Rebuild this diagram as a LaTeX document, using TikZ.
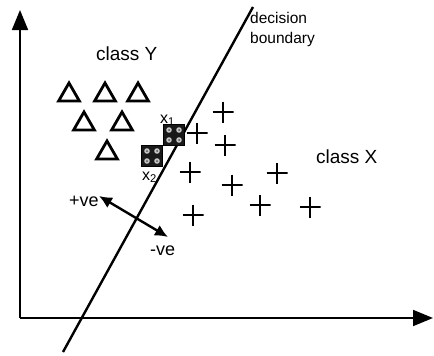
\documentclass[tikz,border=0pt]{standalone}
\usepackage{fontspec}
\setmainfont{Liberation Sans}
\usetikzlibrary{shapes.geometric,arrows.meta}
\tikzset{
  axis/.style={line width=1.8pt,-{Triangle[length=20pt,width=16pt]}},
  boundary/.style={line width=2.4pt},
  tri/.style={regular polygon,regular polygon sides=3,draw,line width=2.8pt,minimum size=24pt,inner sep=0pt},
  plusmark/.style={minimum size=21pt,inner sep=0pt,
    path picture={\draw[line width=2.4pt]
      (path picture bounding box.north) -- (path picture bounding box.south)
      (path picture bounding box.west) -- (path picture bounding box.east);}},
  sample/.style={draw=black,fill=black!90,minimum size=21pt,inner sep=0pt,line width=1pt,
    path picture={\foreach \dx in {-5,5}{\foreach \dy in {-5,5}{
      \fill[gray!45] ([xshift=\dx pt,yshift=\dy pt]path picture bounding box.center) circle (2.8pt);
      \fill[black!70] ([xshift=\dx pt,yshift=\dy pt]path picture bounding box.center) circle (1pt);}}}},
  lbl/.style={inner sep=0pt,anchor=base west},
  normal/.style={line width=2.4pt,{Latex[length=13pt,width=12pt]}-{Latex[length=13pt,width=12pt]}}
}
\begin{document}
\begin{tikzpicture}[x=1pt,y=-1pt]
\useasboundingbox (0,0) rectangle (434,356);
% axes
\coordinate (o) at (20,318);
\coordinate (ytip) at (20,10);
\coordinate (xtip) at (433,318);
\draw[axis] (o) -- (ytip);
\draw[axis] (o) -- (xtip);
% decision boundary
\coordinate (b1) at (63,352);
\coordinate (b2) at (253,7);
\draw[boundary] (b1) -- (b2);
\node[lbl,font=\fontsize{15.5}{20}\selectfont,align=left,anchor=north west] (db) at (250,12) {decision\\boundary};
% class labels
\node[lbl,font=\fontsize{19}{20}\selectfont] (cy) at (96,60) {class Y};
\node[lbl,font=\fontsize{19}{20}\selectfont] (cx) at (316,163) {class X};
% triangles
\node[tri] (t1) at (69,95) {};
\node[tri] (t2) at (105,95) {};
\node[tri] (t3) at (138,95) {};
\node[tri] (t4) at (84,124) {};
\node[tri] (t5) at (122,124) {};
\node[tri] (t6) at (107,153) {};
% pluses
\node[plusmark] (p1) at (223,112) {};
\node[plusmark] (p2) at (197,133) {};
\node[plusmark] (p3) at (225,145) {};
\node[plusmark] (p4) at (190,172) {};
\node[plusmark] (p5) at (232,185) {};
\node[plusmark] (p6) at (277,173) {};
\node[plusmark] (p7) at (260,205) {};
\node[plusmark] (p8) at (310,207) {};
\node[plusmark] (p9) at (193,215) {};
% sample labels
\node[lbl,font=\fontsize{16}{18}\selectfont] (l1) at (160,123) {x\textsubscript{1}};
\node[lbl,font=\fontsize{16}{18}\selectfont] (l2) at (142,180) {x\textsubscript{2}};
% samples
\node[sample] (s1) at (174,135) {};
\node[sample] (s2) at (152,156) {};
% normal arrow
\coordinate (n1) at (99,196);
\coordinate (n2) at (168,237);
\draw[normal] (n1) -- (n2);
\node[lbl,font=\fontsize{18}{20}\selectfont] (pv) at (69,206) {+ve};
\node[lbl,font=\fontsize{18}{20}\selectfont] (mv) at (150,255) {-ve};
\end{tikzpicture}
\end{document}
